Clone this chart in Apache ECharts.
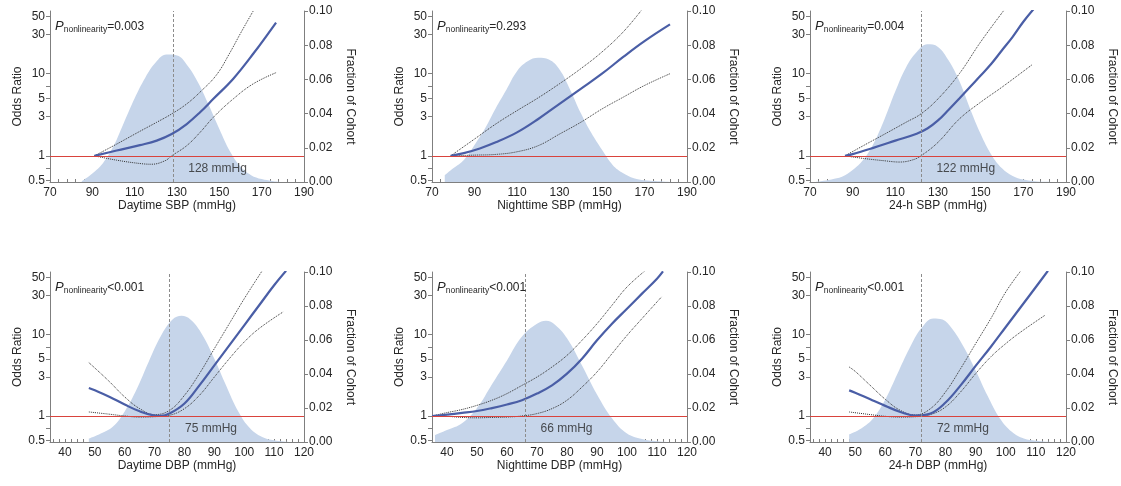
<!DOCTYPE html>
<html>
<head>
<meta charset="utf-8">
<script src="https://cdn.jsdelivr.net/npm/echarts@6/dist/echarts.min.js"></script>
<style>
html,body{margin:0;padding:0;background:#fff;}
#main{width:1121px;height:486px;}
</style>
</head>
<body>
<div id="main"></div>
<script>
// ---- tick labels ----
var sbpLabels = [70, 90, 110, 130, 150, 170, 190];
var dbpLabels = [40, 50, 60, 70, 80, 90, 100, 110, 120];
var orLabels = [0.5, 1, 3, 5, 10, 30, 50];
var orTicks = [0.5, 0.7, 1, 3, 5, 7, 10, 30, 50];

// ---- Daytime SBP ----
var daySbpOr = [[91,1.0],[101.5,1.16],[112.5,1.35],[120.4,1.53],[127.5,1.84],[134.6,2.44],[140.9,3.39],[147.2,4.94],[156.6,8.69],[166.1,17.6],[176.8,42]];
var daySbpUp = [[91,1.0],[101.5,1.39],[112.5,1.99],[120.4,2.56],[127.5,3.24],[134.6,4.29],[140.9,5.97],[148.7,9.7],[155,18],[160,31],[166,58]];
var daySbpLo = [[91,1.0],[101.5,0.885],[112.5,0.806],[118,0.79],[124.3,0.87],[127.5,1.0],[134.6,1.33],[140.9,1.93],[147.2,2.95],[156.6,4.94],[166.1,7.55],[176.8,10.3]];
var daySbpDens = [[85,0.0005],[90,0.005],[95,0.011],[100,0.021],[105,0.035],[110,0.049],[115,0.061],[120,0.070],[125,0.0745],[130,0.074],[135,0.068],[140,0.058],[145,0.045],[150,0.031],[155,0.018],[160,0.009],[165,0.004],[170,0.0017],[175,0.0006],[179,0]];

// ---- Nighttime SBP ----
var nightSbpOr = [[78.8,1.0],[85,1.08],[92.5,1.23],[100,1.46],[110,1.93],[120,2.81],[130,4.29],[140,6.55],[150,10.0],[160,16.0],[170,24.9],[182,39.8]];
var nightSbpUp = [[78.8,1.0],[90,1.6],[100,2.44],[110,3.55],[120,5.09],[130,7.55],[140,11.5],[150,18.4],[160,32.3],[168.5,59]];
var nightSbpLo = [[78.8,1.0],[90,1.02],[100,1.04],[110,1.12],[120,1.33],[130,1.84],[140,2.56],[150,3.72],[160,5.18],[170,7.19],[182,10.0]];
var nightSbpDens = [[76,0.004],[80,0.008],[85,0.0129],[90,0.0217],[95,0.0315],[100,0.0432],[105,0.054],[110,0.0648],[115,0.0706],[120,0.0726],[125,0.0716],[130,0.0658],[135,0.054],[140,0.0403],[145,0.0286],[150,0.0188],[155,0.010],[160,0.0051],[165,0.0022],[170,0.001],[180,0.0002],[186,0]];

// ---- 24-h SBP ----
var allSbpOr = [[86.4,1.0],[90,1.05],[100,1.26],[110,1.53],[120,1.86],[125,2.15],[130,2.7],[135,3.65],[140,5.0],[145,6.9],[150,9.5],[155,13.2],[160,19.3],[165,28.1],[170,42.9],[175,62]];
var allSbpUp = [[86.4,1.0],[95,1.33],[105,1.84],[115,2.56],[122,3.24],[130,4.94],[140,10.0],[150,24.4],[161,59.6]];
var allSbpLo = [[86.4,1.0],[95,0.93],[105,0.87],[112,0.84],[118,0.89],[122,1.0],[130,1.46],[140,2.81],[150,4.5],[160,6.86],[174,12.8]];
var allSbpDens = [[72,0],[75,0.0005],[80,0.0015],[85,0.003],[90,0.007],[95,0.013],[100,0.023],[105,0.037],[110,0.053],[115,0.067],[120,0.076],[125,0.0805],[130,0.079],[135,0.071],[140,0.059],[145,0.043],[150,0.028],[155,0.016],[160,0.008],[165,0.0035],[170,0.0014],[175,0.0005],[180,0.0001],[184,0]];

// ---- Daytime DBP ----
var dayDbpOr = [[48,2.2],[50,2.06],[55,1.71],[60,1.38],[65,1.14],[70,1.01],[72,1.0],[75,1.07],[80,1.42],[85,2.37],[90,4.17],[95,7.33],[100,12.9],[105,22.7],[110,39.9],[114,60]];
var dayDbpUp = [[48,4.5],[50,3.87],[55,2.61],[60,1.71],[65,1.23],[70,1.04],[75,1.17],[80,1.79],[85,3.3],[90,6.68],[95,13.5],[100,27.3],[106,60]];
var dayDbpLo = [[48,1.12],[50,1.1],[55,1.05],[60,1.0],[65,0.97],[70,0.98],[75,1.02],[80,1.23],[85,1.79],[90,3.0],[95,5.03],[100,8.06],[105,11.8],[113,18.8]];
var dayDbpDens = [[48,0.002],[52,0.005],[56,0.009],[60,0.018],[64,0.031],[68,0.047],[72,0.062],[76,0.072],[79,0.0742],[82,0.072],[86,0.063],[90,0.049],[94,0.033],[98,0.018],[102,0.008],[106,0.003],[110,0.001],[115,0]];

// ---- Nighttime DBP ----
var nightDbpOr = [[35,1.0],[40,1.04],[45,1.09],[50,1.15],[55,1.25],[60,1.38],[65,1.56],[70,1.88],[75,2.37],[80,3.3],[85,5.03],[90,8.45],[95,13.5],[100,20.6],[105,31.5],[110,48],[112,59]];
var nightDbpUp = [[35,1.0],[40,1.1],[45,1.2],[50,1.35],[55,1.56],[60,1.88],[65,2.37],[70,3.0],[75,3.98],[80,5.53],[85,8.45],[90,13.5],[95,22.7],[100,38],[106,60]];
var nightDbpLo = [[35,1.0],[40,0.99],[45,0.96],[50,0.95],[55,0.96],[60,0.97],[65,1.0],[70,1.07],[75,1.23],[80,1.56],[85,2.26],[90,3.46],[95,5.8],[100,9.7],[105,15.6],[111.5,28.7]];
var nightDbpDens = [[36,0.004],[40,0.007],[45,0.011],[50,0.02],[55,0.034],[60,0.048],[65,0.062],[70,0.0695],[73,0.0713],[76,0.069],[80,0.061],[85,0.045],[90,0.028],[95,0.014],[100,0.005],[105,0.0018],[110,0.0005],[115,0]];

// ---- 24-h DBP ----
var allDbpOr = [[48,2.06],[50,1.93],[55,1.6],[60,1.33],[65,1.12],[70,1.01],[75,1.07],[80,1.46],[85,2.37],[90,4.1],[95,7.0],[100,12.3],[105,21.6],[110,38],[114,60]];
var allDbpUp = [[48,3.98],[50,3.52],[55,2.37],[60,1.6],[65,1.17],[70,1.03],[75,1.23],[80,1.97],[85,3.8],[90,7.7],[95,15.5],[100,33],[105,60]];
var allDbpLo = [[48,1.12],[55,1.04],[60,0.99],[65,0.97],[70,0.98],[75,1.04],[80,1.29],[85,1.97],[90,3.3],[95,5.28],[100,7.7],[105,10.7],[113,17.1]];
var allDbpDens = [[48,0.0045],[52,0.008],[56,0.014],[60,0.025],[64,0.04],[68,0.055],[72,0.067],[76,0.0727],[79,0.072],[82,0.067],[86,0.056],[90,0.042],[94,0.027],[98,0.014],[102,0.006],[106,0.002],[110,0.0007],[115,0]];

var FONT = '"Liberation Sans", Arial, sans-serif';
var TXT = '#262626';
var AX = '#7f7f7f';

var panels = [
	{xname:'Daytime SBP (mmHg)', p:'=0.003', cut:128, kind:'sbp', or:daySbpOr, up:daySbpUp, lo:daySbpLo, dens:daySbpDens},
	{xname:'Nighttime SBP (mmHg)', p:'=0.293', cut:null, kind:'sbp', or:nightSbpOr, up:nightSbpUp, lo:nightSbpLo, dens:nightSbpDens},
	{xname:'24-h SBP (mmHg)', p:'=0.004', cut:122, kind:'sbp', or:allSbpOr, up:allSbpUp, lo:allSbpLo, dens:allSbpDens},
	{xname:'Daytime DBP (mmHg)', p:'<0.001', cut:75, kind:'dbp', or:dayDbpOr, up:dayDbpUp, lo:dayDbpLo, dens:dayDbpDens},
	{xname:'Nighttime DBP (mmHg)', p:'<0.001', cut:66, kind:'dbp', or:nightDbpOr, up:nightDbpUp, lo:nightDbpLo, dens:nightDbpDens},
	{xname:'24-h DBP (mmHg)', p:'<0.001', cut:72, kind:'dbp', or:allDbpOr, up:allDbpUp, lo:allDbpLo, dens:allDbpDens}
];

// grid boxes: left, top, width, height
var boxes = [[50,11,254,171],[432,11,255,171],[810,11,256,171],[50,272,254,170],[432,272,255,170],[810,272,256,170]];

function range(a, b, step){
	var r = [];
	for (var v = a; v <= b + 1e-9; v += step) r.push(v);
	return r;
}
var sbpTicks = range(70, 190, 4);
var dbpTicks = range(36, 120, 2);

var grid = [], xAxis = [], yAxis = [], series = [], graphic = [];

panels.forEach(function(p, i){
	var b = boxes[i];
	grid.push({left:b[0], top:b[1], width:b[2], height:b[3]});
	var sbp = p.kind === 'sbp';
	xAxis.push({
		gridIndex:i, type:'value',
		min: sbp ? 70 : 35, max: sbp ? 190 : 120,
		name:p.xname, nameLocation:'middle', nameGap:18,
		nameTextStyle:{fontSize:12, color:TXT, fontFamily:FONT},
		axisLine:{onZero:false, lineStyle:{color:AX}},
		axisTick:{show:true, inside:true, length:3, customValues: sbp ? sbpTicks : dbpTicks, lineStyle:{color:AX}},
		axisLabel:{customValues: sbp ? sbpLabels : dbpLabels, fontSize:12, color:TXT, fontFamily:FONT, margin:5},
		splitLine:{show:false}
	});
	yAxis.push({
		gridIndex:i, type:'log', logBase:10, min:0.48, max:58, position:'left',
		name:'Odds Ratio', nameLocation:'middle', nameGap:26,
		nameTextStyle:{fontSize:12, color:TXT, fontFamily:FONT},
		axisLine:{show:true, lineStyle:{color:AX}},
		axisTick:{show:true, length:4, customValues:orTicks, lineStyle:{color:AX}},
		axisLabel:{customValues:orLabels, fontSize:12, color:TXT, fontFamily:FONT, margin:5,
			formatter:function(v){ return String(Math.round(v * 10) / 10); }},
		splitLine:{show:false}
	});
	yAxis.push({
		gridIndex:i, type:'value', min:0, max:0.1, interval:0.02, position:'right',
		name:'Fraction of Cohort', nameLocation:'middle', nameRotate:-90, nameGap:40,
		nameTextStyle:{fontSize:12, color:TXT, fontFamily:FONT},
		axisLine:{show:true, lineStyle:{color:AX}},
		axisTick:{show:true, length:4, lineStyle:{color:AX}},
		axisLabel:{fontSize:12, color:TXT, fontFamily:FONT, margin:5,
			formatter:function(v){ return v.toFixed(2); }},
		splitLine:{show:false}
	});

	// distribution of cohort
	series.push({
		type:'line', xAxisIndex:i, yAxisIndex:2*i+1, data:p.dens,
		smooth:0.4, symbol:'none', silent:true, z:1,
		lineStyle:{width:0}, areaStyle:{color:'#c6d5ea', opacity:1}
	});

	var marks = [{yAxis:1, lineStyle:{color:'#d9433d', width:1.2, type:'solid'}}];
	if (p.cut) marks.push({xAxis:p.cut, lineStyle:{color:'#8c8c8c', width:1, type:[3,2]}});

	series.push({
		type:'line', xAxisIndex:i, yAxisIndex:2*i, data:p.lo,
		smooth:0.4, symbol:'none', silent:true, z:3,
		lineStyle:{color:'#333', width:1, type:'dotted'},
		markLine:{silent:true, symbol:['none','none'], label:{show:false}, data:marks}
	});
	series.push({
		type:'line', xAxisIndex:i, yAxisIndex:2*i, data:p.up,
		smooth:0.4, symbol:'none', silent:true, z:3,
		lineStyle:{color:'#333', width:1, type:'dotted'}
	});
	series.push({
		type:'line', xAxisIndex:i, yAxisIndex:2*i, data:p.or,
		smooth:0.4, symbol:'none', silent:true, z:4,
		lineStyle:{color:'#4a5ea6', width:2.2}
	});
	if (p.cut) {
		series.push({
			type:'scatter', xAxisIndex:i, yAxisIndex:2*i, data:[[p.cut, 0.7]],
			symbolSize:1, itemStyle:{color:'rgba(0,0,0,0)'}, silent:true, z:5,
			label:{show:true, position:'right', distance:15, formatter:p.cut + ' mmHg',
				fontSize:12, color:TXT, fontFamily:FONT}
		});
	}

	graphic.push({
		type:'text', left:b[0] + 5, top:b[1] + 9, z:10,
		style:{
			text:'{p|P}{s|nonlinearity}{t|' + p.p + '}',
			rich:{
				p:{fontSize:13, fontStyle:'italic', fontFamily:FONT, fill:TXT, lineHeight:16, verticalAlign:'middle'},
				s:{fontSize:8.5, fontFamily:FONT, fill:TXT, lineHeight:9, verticalAlign:'bottom'},
				t:{fontSize:12, fontFamily:FONT, fill:TXT, lineHeight:16, verticalAlign:'middle'}
			}
		}
	});
});

var chart = echarts.init(document.getElementById('main'));
chart.setOption({
	backgroundColor:'#fff',
	animation:false,
	grid:grid,
	xAxis:xAxis,
	yAxis:yAxis,
	series:series,
	graphic:graphic
});
</script>
</body>
</html>
